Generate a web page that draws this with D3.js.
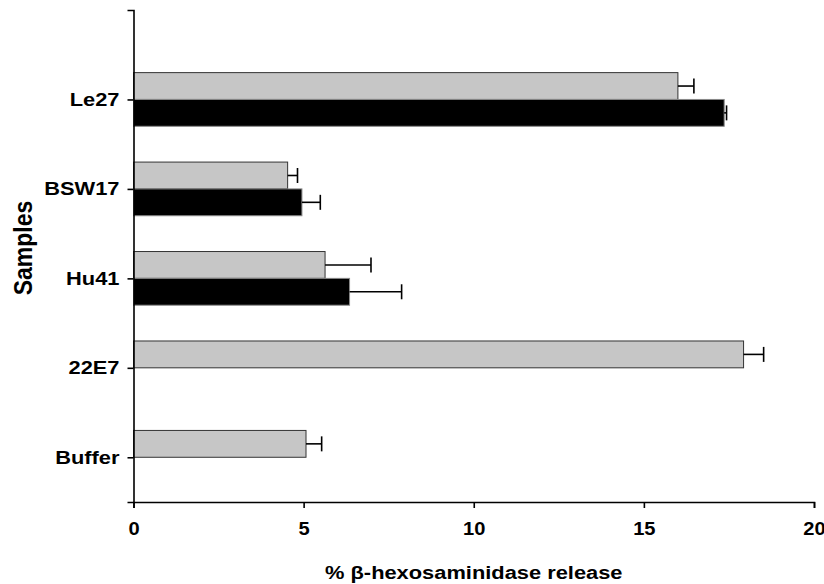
<!DOCTYPE html>
<html>
<head>
<meta charset="utf-8">
<script src="https://cdn.jsdelivr.net/npm/d3@7"></script>
<style>
  html, body { margin: 0; padding: 0; background: #fff; }
  svg { display: block; }
  text { font-family: "Liberation Sans", Arial, Helvetica, sans-serif; font-weight: bold; fill: #000; }
</style>
</head>
<body>
<svg id="chart" width="824" height="584"></svg>
<script>
// Samples, top to bottom
const samples = ["Le27", "BSW17", "Hu41", "22E7", "Buffer"];
// Grey series (upper bar in each group); null = no bar
const greyValues = [16.0, 4.53, 5.63, 17.93, 5.07];
const greyErrors = [0.47, 0.29, 1.35, 0.59, 0.46];
// Black series (lower bar in each group)
const blackValues = [17.36, 4.95, 6.35, null, null];
const blackErrors = [0.07, 0.54, 1.53, null, null];
const xTicks = [0, 5, 10, 15, 20];

// Horizontal widening of all lettering
const WIDE = 1.15;

const svg = d3.select("#chart");
const margin = { left: 133.5, right: 10, top: 10, bottom: 82 };
const W = 824, H = 584;

const x = d3.scaleLinear().domain([0, 20]).range([margin.left, 814]);
// Category positions 1..5 on a 0..5.5 index scale
const y = d3.scaleLinear().domain([0, 5.5]).range([margin.top, H - margin.bottom]);
const barH = 0.3; // in index units

const rows = samples.map((s, i) => ({
  name: s, pos: i + 1,
  grey: greyValues[i], greyErr: greyErrors[i],
  black: blackValues[i], blackErr: blackErrors[i]
}));

const g = svg.append("g");

// Grey bars sit above the category tick
g.selectAll("rect.grey").data(rows.filter(d => d.grey != null)).join("rect")
  .attr("class", "grey")
  .attr("x", x(0))
  .attr("y", d => y(d.pos - barH))
  .attr("width", d => x(d.grey) - x(0))
  .attr("height", d => y(d.pos) - y(d.pos - barH))
  .attr("fill", "#c6c6c6")
  .attr("stroke", "#333")
  .attr("stroke-width", 1);

// Black bars sit below the category tick
g.selectAll("rect.black").data(rows.filter(d => d.black != null)).join("rect")
  .attr("class", "black")
  .attr("x", x(0))
  .attr("y", d => y(d.pos))
  .attr("width", d => x(d.black) - x(0))
  .attr("height", d => y(d.pos + barH) - y(d.pos))
  .attr("fill", "#000")
  .attr("stroke", "#888")
  .attr("stroke-width", 1);

// Error bars (positive direction only)
function errorBars(data, valKey, errKey, centre) {
  const eb = g.selectAll(null).data(data).join("g").attr("stroke", "#000").attr("stroke-width", 1.6);
  eb.append("line")
    .attr("x1", d => x(d[valKey]))
    .attr("x2", d => x(d[valKey] + d[errKey]))
    .attr("y1", d => y(centre(d)))
    .attr("y2", d => y(centre(d)));
  eb.append("line")
    .attr("x1", d => x(d[valKey] + d[errKey]))
    .attr("x2", d => x(d[valKey] + d[errKey]))
    .attr("y1", d => y(centre(d)) - 7.5)
    .attr("y2", d => y(centre(d)) + 7.5);
}
errorBars(rows.filter(d => d.grey != null), "grey", "greyErr", d => d.pos - barH / 2);
errorBars(rows.filter(d => d.black != null), "black", "blackErr", d => d.pos + barH / 2);

// Widen axis tick labels horizontally around their anchor point
function widenTickText(sel) {
  sel.each(function () {
    const t = d3.select(this);
    const x0 = +t.attr("x") || 0;
    t.attr("x", x0 / WIDE).attr("transform", `scale(${WIDE},1)`);
  });
}

// Y axis
const yAxis = d3.axisLeft(y).tickValues(rows.map(d => d.pos))
  .tickFormat((d, i) => samples[i]).tickSizeOuter(0).tickSize(6).tickPadding(8);
const ya = svg.append("g").attr("transform", `translate(${margin.left},0)`).call(yAxis);
ya.select(".domain").attr("stroke", "#000").attr("stroke-width", 1.6);
ya.selectAll(".tick line").attr("stroke", "#000").attr("stroke-width", 1.6);
ya.selectAll(".tick text").attr("font-size", 19).attr("font-family", null).attr("fill", "#000")
  .call(widenTickText);

// X axis
const xAxis = d3.axisBottom(x).tickValues(xTicks).tickSizeOuter(0).tickSize(6).tickPadding(15);
const xa = svg.append("g").attr("transform", `translate(0,${H - margin.bottom})`).call(xAxis);
xa.select(".domain").attr("stroke", "#000").attr("stroke-width", 1.6);
xa.selectAll(".tick line").attr("stroke", "#000").attr("stroke-width", 1.6);
xa.selectAll(".tick text").attr("font-size", 17.5).attr("font-family", null).attr("fill", "#000")
  .call(widenTickText);

// Axis titles
svg.append("text")
  .attr("transform", `translate(${(x(0) + x(20)) / 2},579) scale(${WIDE},1)`)
  .attr("text-anchor", "middle").attr("font-size", 19)
  .text("% β-hexosaminidase release");
svg.append("text")
  .attr("transform", `translate(32,248) scale(${WIDE},1) rotate(-90)`)
  .attr("text-anchor", "middle").attr("font-size", 23)
  .text("Samples");
</script>
</body>
</html>
